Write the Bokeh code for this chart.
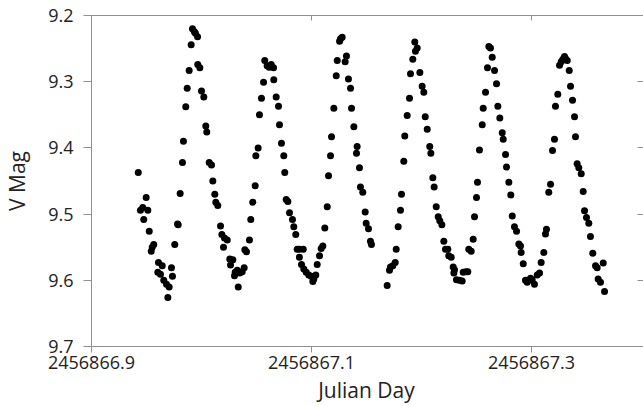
from bokeh.plotting import figure
from bokeh.models import Range1d, FixedTicker, LinearAxis, NumeralTickFormatter, CustomJSTickFormatter
from bokeh.embed import file_html
from bokeh.resources import INLINE

jd = [
    2456866.9425, 2456866.9445, 2456866.9466, 2456866.9475, 2456866.9497, 2456866.9512, 2456866.9525, 2456866.9543, 2456866.9552, 2456866.9566,
    2456866.9603, 2456866.9609, 2456866.9627, 2456866.9643, 2456866.9657, 2456866.9682, 2456866.9694, 2456866.9706, 2456866.9727, 2456866.9736,
    2456866.9757, 2456866.9782, 2456866.9788, 2456866.9806, 2456866.9827, 2456866.9836, 2456866.9857, 2456866.9870, 2456866.9888, 2456866.9906,
    2456866.9918, 2456866.9934, 2456866.9945, 2456866.9964, 2456866.9966, 2456866.9985, 2456867.0000, 2456867.0021, 2456867.0039, 2456867.0048,
    2456867.0070, 2456867.0091, 2456867.0103, 2456867.0121, 2456867.0130, 2456867.0148, 2456867.0173, 2456867.0185, 2456867.0200, 2456867.0209,
    2456867.0234, 2456867.0257, 2456867.0264, 2456867.0285, 2456867.0300, 2456867.0306, 2456867.0325, 2456867.0334, 2456867.0348, 2456867.0370,
    2456867.0388, 2456867.0394, 2456867.0409, 2456867.0436, 2456867.0448, 2456867.0466, 2456867.0488, 2456867.0494, 2456867.0515, 2456867.0527,
    2456867.0545, 2456867.0564, 2456867.0575, 2456867.0597, 2456867.0615, 2456867.0634, 2456867.0655, 2456867.0657, 2456867.0679, 2456867.0700,
    2456867.0709, 2456867.0727, 2456867.0748, 2456867.0757, 2456867.0770, 2456867.0785, 2456867.0800, 2456867.0827, 2456867.0839, 2456867.0857,
    2456867.0870, 2456867.0891, 2456867.0925, 2456867.0890, 2456867.0909, 2456867.0930, 2456867.0952, 2456867.0975, 2456867.0997, 2456867.1021,
    2456867.1012, 2456867.1039, 2456867.1052, 2456867.1073, 2456867.1088, 2456867.1103, 2456867.1121, 2456867.1143, 2456867.1155, 2456867.1173,
    2456867.1182, 2456867.1203, 2456867.1225, 2456867.1234, 2456867.1255, 2456867.1264, 2456867.1279, 2456867.1306, 2456867.1318, 2456867.1336,
    2456867.1355, 2456867.1364, 2456867.1385, 2456867.1415, 2456867.1409, 2456867.1436, 2456867.1445, 2456867.1466, 2456867.1488, 2456867.1497,
    2456867.1518, 2456867.1536, 2456867.1545, 2456867.1688, 2456867.1709, 2456867.1718, 2456867.1739, 2456867.1761, 2456867.1770, 2456867.1788,
    2456867.1809, 2456867.1818, 2456867.1839, 2456867.1848, 2456867.1870, 2456867.1891, 2456867.1900, 2456867.1921, 2456867.1939, 2456867.1961,
    2456867.1945, 2456867.1985, 2456867.2006, 2456867.2021, 2456867.2034, 2456867.2052, 2456867.2075, 2456867.2085, 2456867.2103, 2456867.2115,
    2456867.2134, 2456867.2152, 2456867.2166, 2456867.2185, 2456867.2203, 2456867.2218, 2456867.2239, 2456867.2248, 2456867.2270, 2456867.2288,
    2456867.2300, 2456867.2294, 2456867.2318, 2456867.2345, 2456867.2370, 2456867.2379, 2456867.2403, 2456867.2421, 2456867.2430, 2456867.2452,
    2456867.2470, 2456867.2482, 2456867.2500, 2456867.2509, 2456867.2527, 2456867.2552, 2456867.2561, 2456867.2582, 2456867.2600, 2456867.2612,
    2456867.2627, 2456867.2643, 2456867.2664, 2456867.2682, 2456867.2694, 2456867.2712, 2456867.2734, 2456867.2743, 2456867.2764, 2456867.2773,
    2456867.2794, 2456867.2812, 2456867.2825, 2456867.2845, 2456867.2864, 2456867.2885, 2456867.2900, 2456867.2906, 2456867.2925, 2456867.2945,
    2456867.2961, 2456867.2975, 2456867.2991, 2456867.3006, 2456867.3027, 2456867.3052, 2456867.3073, 2456867.3088, 2456867.3112, 2456867.3127,
    2456867.3136, 2456867.3157, 2456867.3173, 2456867.3191, 2456867.3209, 2456867.3218, 2456867.3239, 2456867.3255, 2456867.3270, 2456867.3285,
    2456867.3300, 2456867.3309, 2456867.3325, 2456867.3343, 2456867.3355, 2456867.3373, 2456867.3391, 2456867.3400, 2456867.3415, 2456867.3430,
    2456867.3452, 2456867.3470, 2456867.3482, 2456867.3500, 2456867.3521, 2456867.3536, 2456867.3557, 2456867.3582, 2456867.3597, 2456867.3606,
    2456867.3627, 2456867.3652, 2456867.3664,
]

vmag = [
    9.437, 9.494, 9.490, 9.508, 9.475, 9.494, 9.526, 9.556, 9.550, 9.546,
    9.588, 9.573, 9.591, 9.578, 9.600, 9.606, 9.626, 9.610, 9.581, 9.594,
    9.546, 9.515, 9.516, 9.469, 9.422, 9.390, 9.338, 9.310, 9.283, 9.244,
    9.220, 9.224, 9.227, 9.232, 9.274, 9.279, 9.314, 9.323, 9.367, 9.376,
    9.422, 9.426, 9.450, 9.470, 9.482, 9.487, 9.518, 9.531, 9.550, 9.536,
    9.539, 9.568, 9.577, 9.569, 9.593, 9.588, 9.585, 9.610, 9.589, 9.587,
    9.581, 9.554, 9.557, 9.539, 9.508, 9.482, 9.457, 9.412, 9.400, 9.350,
    9.325, 9.301, 9.268, 9.276, 9.278, 9.274, 9.279, 9.297, 9.323, 9.337,
    9.365, 9.393, 9.412, 9.437, 9.478, 9.481, 9.498, 9.508, 9.519, 9.531,
    9.553, 9.553, 9.553, 9.565, 9.576, 9.583, 9.588, 9.592, 9.594, 9.598,
    9.602, 9.592, 9.576, 9.563, 9.552, 9.548, 9.521, 9.489, 9.442, 9.412,
    9.383, 9.340, 9.291, 9.268, 9.239, 9.235, 9.233, 9.270, 9.261, 9.296,
    9.310, 9.340, 9.368, 9.398, 9.408, 9.430, 9.459, 9.467, 9.497, 9.514,
    9.522, 9.541, 9.546, 9.608, 9.585, 9.580, 9.578, 9.573, 9.553, 9.519,
    9.494, 9.470, 9.420, 9.382, 9.351, 9.325, 9.288, 9.266, 9.240, 9.249,
    9.254, 9.286, 9.307, 9.316, 9.353, 9.372, 9.398, 9.408, 9.445, 9.459,
    9.489, 9.504, 9.510, 9.516, 9.541, 9.553, 9.553, 9.563, 9.565, 9.580,
    9.584, 9.589, 9.599, 9.600, 9.601, 9.588, 9.587, 9.587, 9.553, 9.556,
    9.538, 9.504, 9.475, 9.452, 9.403, 9.365, 9.340, 9.316, 9.279, 9.247,
    9.249, 9.263, 9.283, 9.303, 9.337, 9.355, 9.377, 9.387, 9.410, 9.429,
    9.452, 9.471, 9.503, 9.519, 9.526, 9.545, 9.548, 9.558, 9.575, 9.600,
    9.603, 9.600, 9.597, 9.599, 9.606, 9.592, 9.589, 9.573, 9.558, 9.530,
    9.523, 9.467, 9.455, 9.404, 9.387, 9.337, 9.319, 9.275, 9.270, 9.266,
    9.262, 9.265, 9.268, 9.283, 9.307, 9.328, 9.353, 9.383, 9.424, 9.430,
    9.439, 9.466, 9.495, 9.505, 9.514, 9.534, 9.559, 9.578, 9.581, 9.598,
    9.603, 9.574, 9.617,
]

x_ticks = [2456866.9, 2456867.1, 2456867.3]
y_ticks = [9.2, 9.3, 9.4, 9.5, 9.6, 9.7]
x_title = "Julian Day"
y_title = "V Mag"

FONT = "Open Sans"
AXIS_COLOR = "#8f8f8f"
TEXT_COLOR = "#222222"

p = figure(width=643, height=406, output_backend="svg", toolbar_location=None,
           x_range=Range1d(2456866.9, 2456867.4), y_range=Range1d(9.7, 9.2),
           min_border_left=91, min_border_right=2, min_border_top=15, min_border_bottom=58,
           x_axis_location=None, y_axis_location=None)
p.outline_line_color = None
p.background_fill_color = "white"
p.border_fill_color = "white"
p.grid.visible = False
p.xgrid.grid_line_color = None
p.ygrid.grid_line_color = None

p.scatter(jd, vmag, size=7, color="black", line_color=None)

def style(ax):
    ax.axis_line_color = AXIS_COLOR
    ax.major_tick_line_color = AXIS_COLOR
    ax.minor_tick_line_color = None
    ax.major_label_text_font = FONT
    ax.major_label_text_font_size = "18px"
    ax.major_label_text_color = TEXT_COLOR
    ax.axis_label_text_font = FONT
    ax.axis_label_text_font_size = "21px"
    ax.axis_label_text_font_style = "normal"
    ax.axis_label_text_color = TEXT_COLOR

xb = LinearAxis(ticker=FixedTicker(ticks=x_ticks), formatter=NumeralTickFormatter(format="0.0"),
                axis_label=x_title)
style(xb)
xb.major_tick_in = 0
xb.major_tick_out = 6
xb.major_label_standoff = 3
xb.axis_label_standoff = 4
p.add_layout(xb, "below")

yl = LinearAxis(ticker=FixedTicker(ticks=y_ticks), formatter=NumeralTickFormatter(format="0.0"),
                axis_label=y_title)
style(yl)
yl.major_tick_in = 0
yl.major_tick_out = 8
yl.major_label_standoff = 10
yl.axis_label_standoff = 14
p.add_layout(yl, "left")

blank = CustomJSTickFormatter(code="return ''")
xt = LinearAxis(ticker=FixedTicker(ticks=x_ticks), formatter=blank)
style(xt)
xt.major_tick_in = 5
xt.major_tick_out = 0
xt.major_label_standoff = 0
xt.major_label_text_font_size = "0px"
p.add_layout(xt, "above")

yr = LinearAxis(ticker=FixedTicker(ticks=y_ticks), formatter=CustomJSTickFormatter(code="return ''"))
style(yr)
yr.axis_line_color = None
yr.major_tick_in = 4
yr.major_tick_out = 2
yr.major_label_standoff = 0
yr.major_label_text_font_size = "0px"
p.add_layout(yr, "right")

open("out.html", "w").write(file_html(p, INLINE))
